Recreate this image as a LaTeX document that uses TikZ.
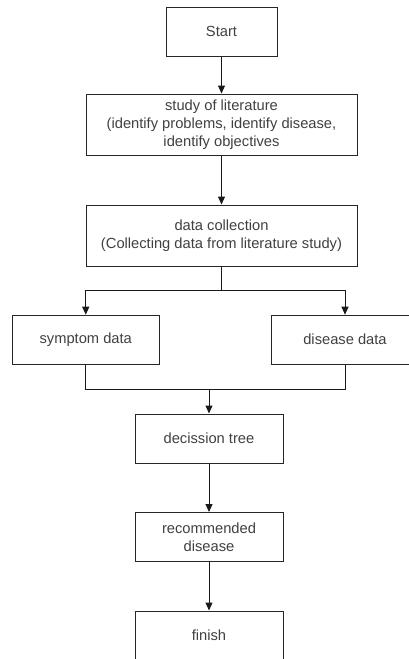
\documentclass[tikz,border=0pt]{standalone}
\usepackage{fontspec}
\setmainfont{Liberation Sans}
\usetikzlibrary{arrows.meta}
\begin{document}
\begin{tikzpicture}[x=1pt,y=-1pt,
 box/.style={draw=black!85, line width=1pt, rectangle, inner sep=0pt, align=center, text=black!75, font=\fontsize{14.7}{17.7}\selectfont},
 small/.style={box, minimum width=148pt, minimum height=49pt},
 conn/.style={draw=black!90, line width=1pt},
 arr/.style={conn, -{Triangle[length=8pt,width=7pt]}}]
\useasboundingbox (0,0) rectangle (409,659);
\node[box, minimum width=111pt, minimum height=49pt] (start) at (221.5,31.5) {Start};
\node[box, minimum width=271pt, minimum height=61pt] (study) at (221.5,124.5) {study of literature\\(identify problems, identify disease,\\identify objectives};
\node[box, minimum width=271pt, minimum height=61pt] (dc) at (221.5,235.5) {data collection\\(Collecting data from literature study)};
\node[box, minimum width=147.5pt, minimum height=49pt] (sym) at (85.75,339.7) {symptom data};
\node[small] (dis) at (345,339.7) {disease data};
\node[small] (dt) at (209,438.5) {decission tree};
\node[small] (rec) at (209,537) {recommended\\disease};
\node[small] (fin) at (209,635.5) {finish};
\coordinate (b) at (221.5,290.7);
\coordinate (m) at (209,389);
\draw[arr] (start) -- (study);
\draw[arr] (study) -- (dc);
\draw[conn] (dc) -- (b);
\draw[arr] (b) -| (sym.north);
\draw[arr] (b) -| (dis.north);
\draw[conn] (sym.south) |- (m);
\draw[conn] (dis.south) |- (m);
\draw[arr] (m) -- (dt);
\draw[arr] (dt) -- (rec);
\draw[arr] (rec) -- (fin);
\end{tikzpicture}
\end{document}
